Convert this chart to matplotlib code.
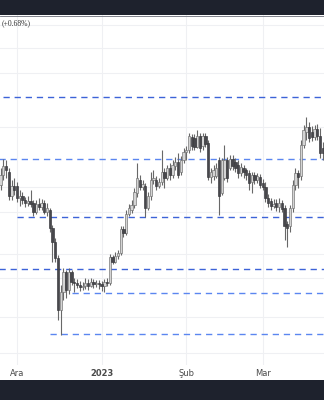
import matplotlib
matplotlib.use("Agg")
import matplotlib.pyplot as plt
import matplotlib.dates as mdates
from matplotlib.patches import Rectangle
import numpy as np
import pandas as pd

# daily candles, 25 Nov 2022 -> 23 Mar 2023
dates = pd.date_range("2022-11-25", periods=119, freq="D")

opens = [2.15, 2.25, 2.34, 2.28, 2.04, 2.14, 2.14, 2.02, 2.04, 2.00,
         1.97, 1.99, 1.97, 1.88, 1.96, 1.93, 1.97, 1.88, 1.90, 1.72,
         1.58, 1.42, 0.90, 1.08, 1.28, 1.10, 1.28, 1.18, 1.17, 1.15,
         1.13, 1.14, 1.17, 1.14, 1.18, 1.16, 1.17, 1.16, 1.14, 1.18,
         1.17, 1.43, 1.38, 1.44, 1.47, 1.71, 1.67, 1.86, 1.90, 1.95,
         2.07, 2.20, 2.13, 2.14, 1.92, 2.04, 2.20, 2.20, 2.14, 2.18,
         2.28, 2.22, 2.32, 2.25, 2.34, 2.38, 2.28, 2.40, 2.48, 2.50,
         2.63, 2.62, 2.53, 2.64, 2.54, 2.64, 2.57, 2.23, 2.24, 2.24,
         2.40, 2.07, 2.22, 2.40, 2.32, 2.41, 2.38, 2.35, 2.27, 2.32,
         2.30, 2.27, 2.18, 2.25, 2.20, 2.23, 2.17, 2.13, 2.02, 1.99,
         1.94, 1.97, 1.93, 1.97, 1.92, 1.76, 1.74, 1.92, 2.15, 2.27,
         2.24, 2.55, 2.68, 2.73, 2.68, 2.63, 2.71, 2.64, 2.52]
highs = [2.32, 2.41, 2.40, 2.32, 2.20, 2.22, 2.18, 2.10, 2.08, 2.03,
         2.04, 2.10, 2.00, 2.00, 2.02, 2.01, 2.00, 1.97, 1.92, 1.75,
         1.62, 1.45, 1.15, 1.32, 1.30, 1.32, 1.30, 1.22, 1.21, 1.19,
         1.18, 1.22, 1.21, 1.22, 1.21, 1.20, 1.20, 1.19, 1.21, 1.22,
         1.46, 1.45, 1.48, 1.50, 1.74, 1.74, 1.90, 1.96, 2.00, 2.12,
         2.37, 2.25, 2.20, 2.17, 2.08, 2.28, 2.30, 2.24, 2.22, 2.50,
         2.32, 2.35, 2.37, 2.40, 2.43, 2.47, 2.44, 2.52, 2.54, 2.67,
         2.66, 2.66, 2.70, 2.67, 2.67, 2.67, 2.60, 2.32, 2.35, 2.37,
         2.43, 2.42, 2.55, 2.43, 2.45, 2.45, 2.42, 2.40, 2.37, 2.35,
         2.32, 2.30, 2.28, 2.28, 2.27, 2.26, 2.21, 2.18, 2.06, 2.02,
         2.01, 2.01, 2.02, 2.00, 1.95, 1.79, 1.95, 2.20, 2.32, 2.30,
         2.60, 2.75, 2.83, 2.78, 2.74, 2.75, 2.76, 2.72, 2.58]
lows = [2.10, 2.20, 2.22, 2.00, 2.00, 2.05, 1.98, 1.94, 1.96, 1.93,
        1.94, 1.93, 1.84, 1.86, 1.90, 1.90, 1.86, 1.84, 1.68, 1.38,
        1.38, 0.80, 0.65, 1.00, 1.02, 1.06, 1.15, 1.08, 1.12, 1.09,
        1.10, 1.11, 1.10, 1.13, 1.12, 1.13, 1.11, 1.09, 1.08, 1.14,
        1.15, 1.36, 1.37, 1.41, 1.45, 1.63, 1.65, 1.84, 1.87, 1.92,
        2.03, 2.10, 2.10, 1.83, 1.90, 2.00, 2.16, 2.10, 2.12, 2.15,
        2.12, 2.20, 2.20, 2.22, 2.30, 2.22, 2.25, 2.37, 2.40, 2.47,
        2.50, 2.50, 2.52, 2.48, 2.50, 2.53, 2.20, 2.17, 2.20, 2.22,
        1.85, 2.05, 2.20, 2.18, 2.30, 2.30, 2.28, 2.22, 2.24, 2.22,
        2.20, 2.10, 2.07, 2.16, 2.17, 2.12, 2.10, 1.98, 1.93, 1.90,
        1.92, 1.89, 1.88, 1.88, 1.60, 1.53, 1.68, 1.88, 2.10, 2.12,
        2.20, 2.52, 2.60, 2.58, 2.59, 2.60, 2.60, 2.42, 2.40]
closes = [2.25, 2.34, 2.30, 2.04, 2.14, 2.10, 2.02, 2.04, 2.00, 1.97,
          1.99, 1.96, 1.88, 1.96, 1.93, 1.97, 1.88, 1.92, 1.72, 1.58,
          1.42, 0.90, 1.08, 1.28, 1.10, 1.28, 1.18, 1.17, 1.15, 1.13,
          1.14, 1.17, 1.14, 1.18, 1.16, 1.17, 1.16, 1.14, 1.18, 1.17,
          1.43, 1.38, 1.44, 1.47, 1.71, 1.67, 1.86, 1.92, 1.95, 2.08,
          2.22, 2.13, 2.16, 1.92, 2.04, 2.20, 2.22, 2.14, 2.18, 2.28,
          2.22, 2.32, 2.25, 2.35, 2.38, 2.25, 2.40, 2.48, 2.50, 2.64,
          2.54, 2.53, 2.64, 2.52, 2.64, 2.56, 2.23, 2.28, 2.30, 2.32,
          2.04, 2.40, 2.40, 2.22, 2.41, 2.34, 2.32, 2.27, 2.33, 2.28,
          2.25, 2.17, 2.25, 2.20, 2.24, 2.15, 2.13, 2.02, 1.97, 1.94,
          1.96, 1.93, 1.97, 1.91, 1.74, 1.72, 1.92, 2.15, 2.27, 2.23,
          2.55, 2.70, 2.73, 2.62, 2.63, 2.71, 2.64, 2.47, 2.47]

# horizontal levels and the date each one starts from
levels = [3.03, 2.41, 1.83, 1.31, 1.07, 0.66]
level_start = ["2022-11-26", "2022-11-24", "2022-12-01",
               "2022-11-24", "2022-12-21", "2022-12-13"]
level_colors = ["#3d63d8", "#5b86f0", "#3d63d8", "#3d63d8", "#5b86f0", "#5b86f0"]

grid_prices = [3.75, 3.52, 3.27, 2.73, 2.13, 1.88, 1.46, 1.22, 0.83, 0.47]
tick_dates = ["2022-12-01", "2023-01-01", "2023-02-01", "2023-03-01"]
tick_labels = ["Ara", "2023", "Şub", "Mar"]

fig = plt.figure(figsize=(3.24, 4.0), dpi=100)
fig.patch.set_facecolor("white")
ax = fig.add_axes([0, 0.0875, 1, 0.875])

x = mdates.date2num(dates)
o = np.array(opens)
h = np.array(highs)
l = np.array(lows)
c = np.array(closes)
up = c >= o

ax.vlines(x, l, h, color="#686868", lw=0.8, zorder=3)
ax.bar(x[up], (c - o)[up], bottom=o[up], width=0.85, color="#d4d4d4",
       edgecolor="#6e6e6e", linewidth=0.45, zorder=4)
ax.bar(x[~up], (c - o)[~up], bottom=o[~up], width=0.85, color="#48484c",
       edgecolor="#36363a", linewidth=0.45, zorder=4)

x_end = mdates.date2num(pd.Timestamp("2023-03-23")) + 0.5
for lev, start, col in zip(levels, level_start, level_colors):
    xs = mdates.date2num(pd.Timestamp(start))
    ax.plot([xs, x_end + 5], [lev, lev], color=col, lw=1.0,
            linestyle=(0, (4.5, 3.5)), zorder=2)

for gp in grid_prices:
    ax.axhline(gp, color="#eff0f3", lw=0.8, zorder=1)

tick_x = mdates.date2num(pd.to_datetime(tick_dates))
for tx in tick_x:
    ax.axvline(tx, color="#eff0f3", lw=0.8, zorder=1)

x0 = mdates.date2num(pd.Timestamp("2022-11-25")) - 0.22
ax.set_xlim(x0, x0 + 324 / 2.73)
ax.set_ylim(0.35, 3.85)

ax.set_xticks(tick_x)
ax.set_xticklabels(tick_labels, fontsize=6, color="#4a4a4a")
ax.get_xticklabels()[1].set_fontweight("bold")
ax.tick_params(axis="x", length=0, pad=3)
ax.set_yticks([])
for s in ax.spines.values():
    s.set_visible(False)

# dark frame bands top and bottom
fig.patches.append(Rectangle((0, 1 - 15 / 400), 1, 15 / 400, transform=fig.transFigure,
                             facecolor="#1e222d", edgecolor="none", zorder=10))
fig.patches.append(Rectangle((0, 0), 1, 20 / 400, transform=fig.transFigure,
                             facecolor="#1e222d", edgecolor="none", zorder=10))
fig.add_artist(plt.Line2D([0, 1], [1 - 15.5 / 400] * 2, transform=fig.transFigure,
                          color="#6b6e78", lw=0.6))
fig.add_artist(plt.Line2D([0, 1], [20.5 / 400] * 2, transform=fig.transFigure,
                          color="#6b6e78", lw=0.6))

fig.text(2 / 324, 1 - 23 / 400, "(+0.68%)", fontsize=5.5, color="#333333",
         family="Liberation Serif", va="center", ha="left")

fig.savefig("out.png", dpi=100)
